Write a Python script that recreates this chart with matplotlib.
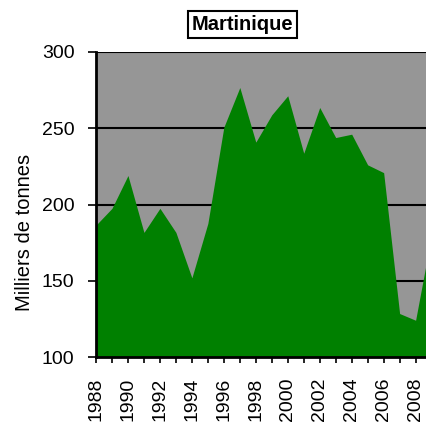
import matplotlib
matplotlib.use("Agg")
import matplotlib.pyplot as plt
from matplotlib.ticker import MultipleLocator

plt.rcParams['font.family'] = ['Liberation Sans', 'DejaVu Sans']

years = list(range(1988, 2010))
values = [186.5, 197.5, 219, 181.7, 197.5, 181.7, 151.9, 187.6, 250.7, 276.7,
          240.9, 258.8, 271.3, 233.6, 263.6, 243.9, 246.1, 226, 220.9, 128.5,
          124.1, 180]
tick_years = list(range(1988, 2009, 2))
title = "Martinique"
ylabel = "Milliers de tonnes"

fig = plt.figure(figsize=(4.27, 4.26), dpi=100)
left = 96 / 427
bottom = 1 - 357 / 426
top = 1 - 52 / 426
right_px = 96 + 21 * 15.98
ax = fig.add_axes([left, bottom, (right_px - 96) / 427, top - bottom])
ax.set_facecolor('#969696')

ax.set_xlim(1988, 2009)
ax.set_ylim(100, 300)
ax.yaxis.set_major_locator(MultipleLocator(50))
ax.grid(axis='y', color='black', linewidth=1.5, zorder=0)
ax.set_axisbelow(True)
ax.fill_between(years, values, 100, color='#008000', linewidth=0, zorder=2)

ax.set_xticks(tick_years)
ax.set_xticklabels([str(y) for y in tick_years], rotation=90)
ax.xaxis.set_minor_locator(MultipleLocator(1))
ax.tick_params(axis='x', which='both', direction='out', length=4, width=1.2,
               labelsize=14, pad=11)
ax.tick_params(axis='y', direction='out', length=6, width=1.2, labelsize=14, pad=9.5)

for s in ['top', 'right']:
    ax.spines[s].set_visible(False)
for s in ['left', 'bottom']:
    ax.spines[s].set_linewidth(2)
    ax.spines[s].set_zorder(3)

fig.text(25 / 427, 1 - 232 / 426, ylabel, rotation=90, ha='center', va='center',
         fontsize=14.5)
fig.text(242.5 / 427, 1 - 24.3 / 426, title, ha='center', va='center',
         fontsize=14.5, fontweight='bold',
         bbox=dict(boxstyle='square,pad=0.2', facecolor='white',
                   edgecolor='black', linewidth=1.5))

fig.savefig('out.png', dpi=100)
